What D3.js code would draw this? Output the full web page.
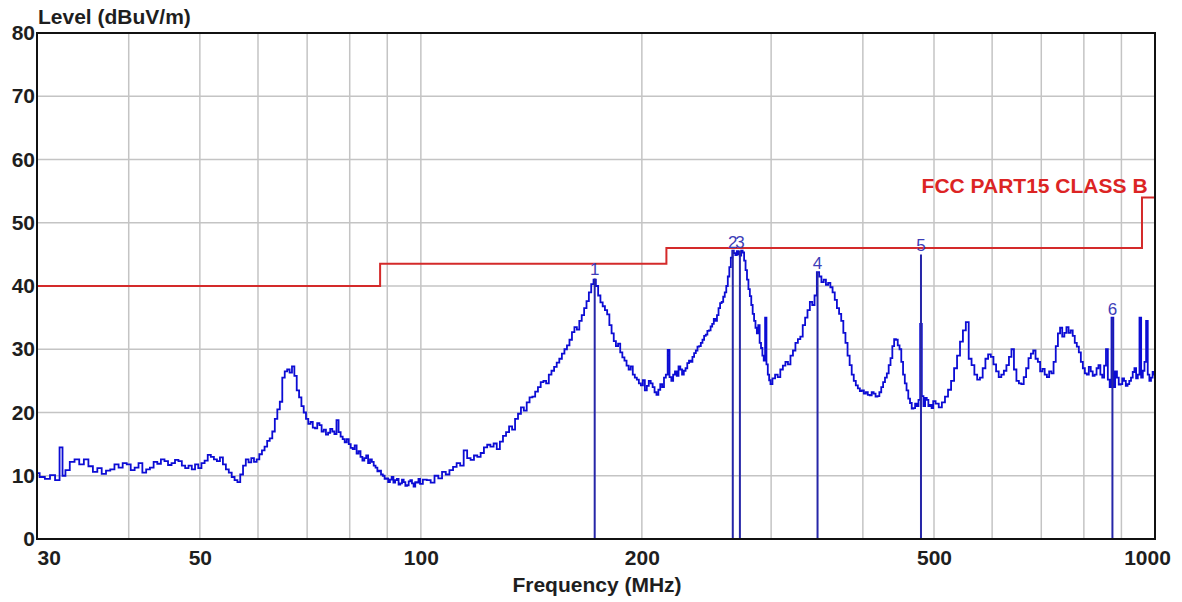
<!DOCTYPE html>
<meta charset="utf-8">
<head>
<style>
  body { margin: 0; background: #fff; }
  svg { display: block; }
  .tick text { font-family: "Liberation Sans", Arial, sans-serif; font-weight: bold; font-size: 21px; fill: #1e1e1e; }
</style>
</head>
<body>
<svg id="chart" width="1182" height="602"></svg>
<script src="https://d3js.org/d3.v7.min.js"></script>
<script>

// Trace: frequency (MHz)
var traceFreq = [
  30, 30.5, 31, 31.5, 32, 32.4, 32.6, 33, 33.5, 34,
  34.5, 35, 35.5, 36, 36.5, 37, 37.5, 38, 38.5, 39,
  39.5, 40, 40.5, 41, 41.5, 42, 42.5, 43, 43.5, 44,
  44.5, 45, 45.5, 46, 46.5, 47, 47.5, 48, 48.5, 49,
  49.5, 50, 50.5, 51, 51.5, 52, 52.5, 53, 53.5, 54,
  54.5, 55, 55.5, 56, 56.5, 57, 57.5, 58, 58.5, 59,
  59.5, 60, 60.5, 61, 61.5, 62, 62.5, 63, 63.5, 64,
  64.5, 65, 65.5, 66, 66.5, 67, 67.5, 68, 68.5, 69,
  69.5, 70, 70.5, 71, 71.5, 72, 72.5, 73, 73.5, 74,
  74.5, 75, 75.5, 76, 76.5, 77, 77.5, 78, 78.5, 79,
  79.5, 80, 80.5, 81, 81.5, 82, 82.5, 83, 83.5, 84,
  84.5, 85, 85.5, 86, 86.5, 87, 87.5, 88, 88.5, 89,
  89.5, 90, 90.5, 91, 91.5, 92, 92.5, 93, 93.5, 94,
  94.5, 95, 95.5, 96, 96.5, 97, 97.5, 98, 98.5, 99,
  99.5,
  100, 101.25, 102.5, 103.75, 105, 106.25, 107.5, 108.75,
  110, 111.25, 112.5, 113.75, 115, 116.25, 117.5, 118.75,
  120, 121.25, 122.5, 123.75, 125, 126.25, 127.5, 128.75,
  130, 131.25, 132.5, 133.75, 135, 136.25, 137.5, 138.75,
  140, 141.25, 142.5, 143.75, 145, 146.25, 147.5, 148.75,
  150, 151.25, 152.5, 153.75, 155, 156.25, 157.5, 158.75,
  160, 161.25, 162.5, 163.75, 165, 166.25, 167.5, 168.75,
  170, 171.25, 172.5, 173.75, 175, 176.25, 177.5, 178.75,
  180, 181.25, 182.5, 183.75, 185, 186.25, 187.5, 188.75,
  190, 191.25, 192.5, 193.75, 195, 196.25, 197.5, 198.75,
  200, 201.25, 202.5, 203.75, 205, 206.25, 207.5, 208.75,
  210, 211.25, 212.5, 213.75, 215, 216.25, 217.5, 218.75,
  220, 221.25, 222.5, 223.75, 225, 226.25, 227.5, 228.75,
  230, 231.25, 232.5, 233.75, 235, 236.25, 237.5, 238.75,
  240, 241.25, 242.5, 243.75, 245, 246.25, 247.5, 248.75,
  250, 251.25, 252.5, 253.75, 255, 256.25, 257.5, 258.75,
  260, 261.25, 262.5, 263.75, 265, 266.25, 267.5, 268.75,
  270, 271.25, 272.5, 273.75, 275, 276.25, 277.5, 278.75,
  280, 281.25, 282.5, 283.75, 285, 286.25, 287.5, 288.75,
  290, 291.25, 292.5, 293.75, 295, 296.25, 297.5, 298.75,
  300, 302.5, 305, 307.5, 310, 312.5, 315, 317.5,
  320, 322.5, 325, 327.5, 330, 332.5, 335, 337.5,
  340, 342.5, 345, 347.5, 350, 352.5, 355, 357.5,
  360, 362.5, 365, 367.5, 370, 372.5, 375, 377.5,
  380, 382.5, 385, 387.5, 390, 392.5, 395, 397.5,
  400, 402.5, 405, 407.5, 410, 412.5, 415, 417.5,
  420, 422.5, 425, 427.5, 430, 432.5, 435, 437.5,
  440, 442.5, 445, 447.5, 450, 452.5, 455, 457.5,
  460, 462.5, 465, 467.5, 470, 472.5, 475, 477.5,
  480, 482.5, 485, 487.5, 490, 492.5, 495, 497.5,
  500, 505, 510, 515, 520, 525, 530, 535, 540, 545,
  550, 555, 560, 565, 570, 575, 580, 585, 590, 595,
  600, 605, 610, 615, 620, 625, 630, 635, 640, 645,
  650, 655, 660, 665, 670, 675, 680, 685, 690, 695,
  700, 705, 710, 715, 720, 725, 730, 735, 740, 745,
  750, 755, 760, 765, 770, 775, 780, 785, 790, 795,
  800, 805, 810, 815, 820, 825, 830, 835, 840, 845,
  850, 855, 860, 865, 870, 875, 880, 885, 890, 895,
  900, 905, 910, 915, 920, 925, 930, 935, 940, 945,
  950, 955, 960, 965, 970, 975, 980, 985, 990, 995,
  1000
];

// Trace: level (dBuV/m), same order
var traceLevel = [
  10.4, 9.8, 9.5, 10.1, 9.3, 14.5, 10.0, 10.9, 12.2, 12.6,
  11.8, 12.6, 11.5, 10.6, 11.2, 10.3, 10.8, 11.0, 11.8, 11.3,
  12.0, 11.8, 10.9, 11.3, 12.0, 10.5, 11.0, 11.3, 12.2, 11.9,
  12.6, 12.3, 11.7, 12.0, 12.5, 12.3, 11.6, 11.2, 11.6, 11.0,
  11.8, 11.2, 12.0, 12.4, 13.3, 13.0, 12.6, 12.3, 12.9, 11.8,
  11.0, 10.5, 9.8, 9.3, 9.0, 10.2, 11.6, 12.6, 12.1, 12.8,
  12.2, 12.6, 13.4, 14.0, 14.6, 15.5, 15.9, 17.0, 19.0, 20.5,
  21.7, 25.5, 26.5, 26.8, 26.3, 27.3, 25.8, 23.5, 22.4, 21.0,
  20.0, 19.0, 18.2, 18.5, 17.6, 17.5, 18.3, 18.0, 17.0, 17.3,
  16.5, 16.8, 17.4, 17.0, 16.6, 18.8, 16.9, 16.2, 15.8, 15.3,
  15.8, 15.0, 14.4, 14.2, 14.8, 13.5, 13.9, 13.0, 12.4, 12.8,
  13.2, 12.0, 12.6, 12.2, 11.6, 11.3, 10.7, 10.8, 10.2, 10.0,
  9.5, 9.6, 9.0, 9.4, 9.8, 8.9, 9.3, 9.5, 8.6, 8.8,
  9.4, 9.0, 8.4, 8.5, 9.1, 9.3, 8.8, 8.3, 9.0, 8.9,
  9.5,
  8.7, 9.4, 9.3, 8.9, 10.0, 9.6, 10.6, 10.2,
  10.9, 11.4, 12.0, 11.6, 14.0, 12.8, 12.5, 13.2,
  13.0, 13.6, 14.5, 14.9, 14.6, 15.1, 14.2, 15.4,
  16.3, 16.9, 17.8, 17.3, 19.0, 19.8, 20.8, 20.3,
  21.6, 22.4, 22.5, 23.3, 24.0, 24.8, 25.0, 24.6,
  26.0, 26.6, 27.2, 27.9, 28.5, 29.3, 30.0, 30.6,
  31.5, 32.7, 33.5, 33.1, 34.5, 35.4, 36.5, 37.6,
  39.0, 40.3, 41.0, 40.0, 38.5, 37.4, 36.8, 36.2,
  35.5, 33.8, 32.5, 31.3, 30.5, 30.9, 29.5, 28.7,
  28.2, 27.4, 26.8, 27.3, 26.0, 25.5, 25.2, 24.6,
  24.3, 25.1, 23.5, 24.2, 25.0, 24.6, 24.0, 23.2,
  22.8, 23.6, 24.5, 24.0, 25.5, 26.0, 29.9, 25.6,
  25.0, 26.0, 26.5, 25.8, 27.3, 26.8, 26.0, 26.6,
  27.0, 27.8, 28.2, 28.0, 28.8, 29.4, 29.8, 30.4,
  30.5, 31.0, 31.5, 32.1, 32.3, 32.9, 33.0, 33.6,
  34.0, 34.8, 34.5, 35.4, 36.5, 37.3, 37.5, 38.3,
  39.0, 40.0, 41.5, 43.0, 44.5, 45.6, 45.2, 44.9,
  45.5, 45.0, 44.8, 45.6, 45.3, 44.0, 42.5, 41.0,
  39.5, 38.4, 37.0, 35.6, 34.5, 33.4, 32.5, 33.8,
  31.0, 30.2, 29.0, 28.2, 35.0, 27.6, 26.0, 25.1,
  24.5, 25.4, 26.0, 25.6, 26.8, 27.4, 28.0, 27.6,
  29.0, 29.8, 31.0, 31.6, 32.0, 33.8, 35.0, 36.2,
  37.5, 37.0, 38.5, 42.2, 41.5, 40.6, 41.0, 40.2,
  40.5, 39.8, 39.0, 37.8, 36.5, 35.6, 34.5, 32.6,
  31.0, 29.0, 27.5, 26.0, 25.0, 24.3, 23.8, 23.4,
  23.5, 23.0, 23.2, 22.8, 22.7, 23.2, 23.0, 22.5,
  22.6, 23.2, 24.0, 24.8, 25.5, 26.2, 27.5, 28.6,
  30.5, 31.6, 31.5, 30.6, 30.0, 28.0, 26.0, 24.6,
  23.5, 22.2, 21.5, 20.6, 20.7, 21.4, 21.0, 22.0,
  34.0, 22.6, 21.0, 22.3, 22.0, 21.0, 21.2, 20.7,
  21.8, 21.4, 20.8, 21.6, 22.5, 23.6, 25.0, 27.0, 29.0, 31.2,
  33.0, 34.3, 28.5, 27.5, 26.0, 25.2, 25.5, 27.0, 28.5, 29.2,
  28.8, 27.6, 26.5, 25.6, 26.0, 26.6, 27.5, 28.8, 30.0, 26.8,
  25.0, 24.6, 24.5, 25.6, 27.0, 28.6, 29.3, 29.8, 28.5, 28.0,
  26.5, 26.9, 26.0, 25.6, 26.5, 26.2, 28.0, 30.5, 32.5, 33.4,
  32.0, 32.6, 33.5, 32.6, 33.0, 32.1, 31.0, 30.4, 29.5, 28.0,
  27.0, 26.2, 26.0, 27.2, 26.5, 25.8, 26.0, 27.0, 27.5, 26.0,
  25.5, 27.4, 30.0, 25.2, 24.0, 35.0, 24.0, 26.5, 25.5, 24.4,
  24.5, 25.4, 25.0, 24.2, 24.5, 25.0, 25.5, 26.4, 27.0, 25.4,
  26.0, 35.0, 25.5, 26.6, 28.0, 34.5, 26.0, 25.0, 25.5, 26.4,
  26.0
];

// FCC Part 15 Class B limit (step after each frequency)
var limitFreq = [30, 88, 216, 960, 1000];
var limitLevel = [40, 43.5, 46, 54, 54];

// Markers
var markerFreq = [172.5, 266, 272, 347, 480, 875];
var markerLevel = [41.2, 45.6, 45.6, 42.2, 45.0, 35.0];
var markerLabel = ["1", "2", "3", "4", "5", "6"];

// Axis ticks
var gridFreq = [30, 40, 50, 60, 70, 80, 90, 100, 200, 300, 400, 500, 600, 700, 800, 900, 1000];
var freqLabels = [30, 50, 100, 200, 500, 1000];
var levelTicks = [0, 10, 20, 30, 40, 50, 60, 70, 80];

var svg = d3.select("#chart"),
    margin = {left: 37, right: 27, top: 33, bottom: 63},
    width = +svg.attr("width") - margin.left - margin.right,
    height = +svg.attr("height") - margin.top - margin.bottom;

var g = svg.append("g").attr("transform", "translate(" + margin.left + "," + margin.top + ")");

var x = d3.scaleLog().domain([30, 1000]).range([0, width]);
var y = d3.scaleLinear().domain([0, 80]).range([height, 0]);

// grid
g.append("g")
  .selectAll("line")
  .data(gridFreq)
  .enter()
  .append("line")
    .attr("x1", function(d){ return x(d) })
    .attr("x2", function(d){ return x(d) })
    .attr("y1", 0)
    .attr("y2", height)
    .attr("stroke", "#c4c4c4")
    .attr("stroke-width", 1.5)

g.append("g")
  .selectAll("line")
  .data(levelTicks)
  .enter()
  .append("line")
    .attr("x1", 0)
    .attr("x2", width)
    .attr("y1", function(d){ return y(d) })
    .attr("y2", function(d){ return y(d) })
    .attr("stroke", "#c4c4c4")
    .attr("stroke-width", 1.5)

// axes (labels only, frame drawn separately)
var xAxis = g.append("g")
  .attr("transform", "translate(0," + height + ")")
  .call(d3.axisBottom(x).tickValues(freqLabels).tickFormat(d3.format("d")).tickSize(0).tickPadding(11))
xAxis.select(".domain").remove()
xAxis.selectAll(".tick text")
  .attr("text-anchor", function(d){ return d === 30 ? "start" : "middle" })
  .attr("dx", function(d){ return d === 1000 ? -8 : 0 })

var yAxis = g.append("g")
  .call(d3.axisLeft(y).tickValues(levelTicks).tickSize(0).tickPadding(2))
yAxis.select(".domain").remove()

// limit line
var limitData = limitFreq.map(function(f, i){ return [f, limitLevel[i]] })
g.append("path")
  .datum(limitData)
  .attr("fill", "none")
  .attr("stroke", "#d42a2a")
  .attr("stroke-width", 2)
  .attr("d", d3.line()
    .x(function(d){ return x(d[0]) })
    .y(function(d){ return y(d[1]) })
    .curve(d3.curveStepAfter))

g.append("text")
  .attr("x", x(980) - 1)
  .attr("y", y(54) - 4)
  .attr("text-anchor", "end")
  .style("font-family", "Liberation Sans, Arial, sans-serif")
  .style("font-weight", "bold")
  .style("font-size", "21px")
  .style("fill", "#dc2424")
  .text("FCC PART15 CLASS B")

// trace
var traceData = traceFreq.map(function(f, i){ return [f, traceLevel[i]] })
g.append("path")
  .datum(traceData)
  .attr("fill", "none")
  .attr("stroke", "#0c0cd4")
  .attr("stroke-width", 1.8)
  .attr("d", d3.line()
    .x(function(d){ return x(d[0]) })
    .y(function(d){ return y(d[1]) })
    .curve(d3.curveStep))

// markers
var markers = markerFreq.map(function(f, i){ return {f: f, v: markerLevel[i], label: markerLabel[i]} })
g.append("g")
  .selectAll("line")
  .data(markers)
  .enter()
  .append("line")
    .attr("x1", function(d){ return x(d.f) })
    .attr("x2", function(d){ return x(d.f) })
    .attr("y1", height)
    .attr("y2", function(d){ return y(d.v) })
    .attr("stroke", "#2626a8")
    .attr("stroke-width", 2)

g.append("g")
  .selectAll("text")
  .data(markers)
  .enter()
  .append("text")
    .attr("x", function(d){ return x(d.f) })
    .attr("y", function(d){ return y(d.v) - 3 })
    .attr("text-anchor", "middle")
    .style("font-family", "Liberation Sans, Arial, sans-serif")
    .style("font-size", "17px")
    .style("fill", "#3d3db8")
    .text(function(d){ return d.label })

// frame
g.append("rect")
  .attr("width", width)
  .attr("height", height)
  .attr("fill", "none")
  .attr("stroke", "#111")
  .attr("stroke-width", 2)

// titles
svg.append("text")
  .attr("x", 38)
  .attr("y", 24)
  .style("font-family", "Liberation Sans, Arial, sans-serif")
  .style("font-weight", "bold")
  .style("font-size", "21px")
  .style("fill", "#1e1e1e")
  .text("Level (dBuV/m)")

svg.append("text")
  .attr("x", 597)
  .attr("y", 592)
  .attr("text-anchor", "middle")
  .style("font-family", "Liberation Sans, Arial, sans-serif")
  .style("font-weight", "bold")
  .style("font-size", "21px")
  .style("fill", "#1e1e1e")
  .text("Frequency (MHz)")

</script>
</body>
